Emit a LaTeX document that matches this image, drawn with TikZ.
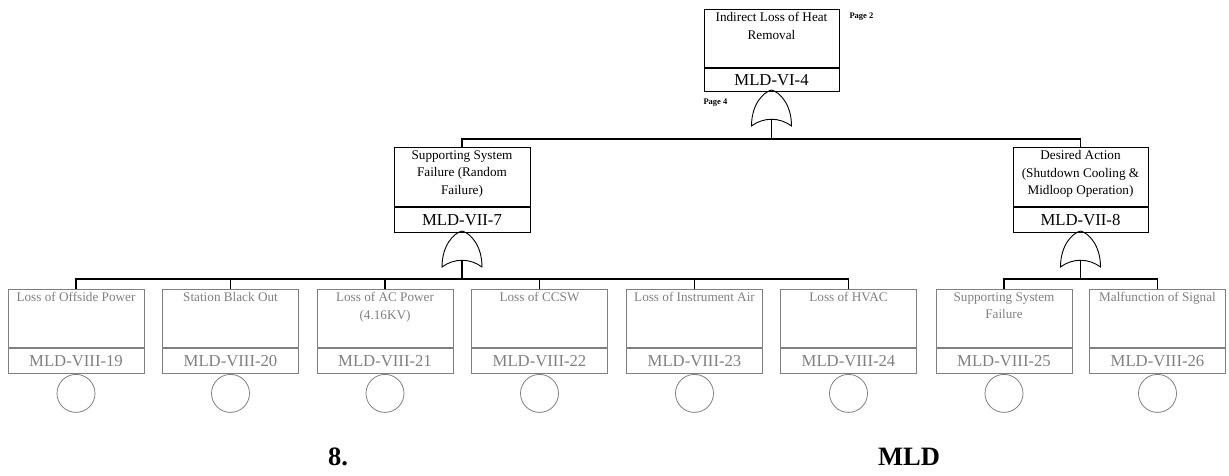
\documentclass[tikz,border=0pt]{standalone}
\usepackage{fontspec}
\setmainfont{Liberation Serif}
\newcommand\ftbox[9]{%
  \node[draw=#9, minimum width=#4pt, minimum height=#5pt, inner sep=0pt, anchor=north] (#1u) at (#2,#3) {};
  \node[draw=#9, minimum width=#4pt, minimum height=#6pt, inner sep=0pt, anchor=north, text=#9, codefont] (#1) at (#1u.south) {#8};
  \node[anchor=north, text=#9, align=center, inner sep=0pt, descfont] (#1t) at ([yshift=-3pt]#1u.north) {#7};
}
\newcommand\orgate[3]{%
  \draw[gatestyle] (#2-20,#3+36) .. controls (#2-20,#3+14) and (#2-8,#3+2) .. (#2,#3)
     .. controls (#2+8,#3+2) and (#2+20,#3+14) .. (#2+20,#3+36)
     .. controls (#2+8,#3+27) and (#2-8,#3+27) .. cycle;
  \coordinate (#1) at (#2,#3+29.3);
}
\tikzset{
  codefont/.style={font=\fontsize{16.7}{18}\selectfont},
  descfont/.style={font=\fontsize{13.2}{17.5}\selectfont},
  gatestyle/.style={draw=black, line width=0.9pt},
  conn/.style={draw=black, line width=1.1pt},
  evt/.style={circle, draw=gray, line width=0.8pt, minimum size=38pt, inner sep=0pt, anchor=north},
  pagelbl/.style={font=\fontsize{8.5}{9}\bfseries\selectfont, anchor=west, inner sep=0pt},
  caption/.style={font=\fontsize{26.5}{28}\bfseries\selectfont, inner sep=0pt}
}
\begin{document}
\begin{tikzpicture}[x=1pt, y=-1pt, line width=1pt]
\useasboundingbox (0,0) rectangle (1229,476);
% top event
\ftbox{top}{771.5}{9}{135}{58}{23}{Indirect Loss of Heat\\Removal}{MLD-VI-4}{black}
\node[pagelbl] (p2) at (849,17) {Page 2};
\node[pagelbl] (p4) at (703,103) {Page 4};
\orgate{g0}{771.5}{90}
% middle level
\ftbox{ml}{462}{147}{136}{59}{25}{Supporting System\\Failure (Random\\Failure)}{MLD-VII-7}{black}
\ftbox{mr}{1080.5}{147}{135}{59}{25}{Desired Action\\(Shutdown Cooling \&\\Midloop Operation)}{MLD-VII-8}{black}
\coordinate (bus0) at (771.5,139);
\draw[conn] (g0) -- (bus0);
\draw[conn] (mlu.north) |- (bus0) -| (mru.north);
\orgate{g1}{462}{231}
\orgate{g2}{1080.5}{231}
% bottom level
\ftbox{b1}{76}{289}{136}{58}{25}{Loss of Offside Power}{MLD-VIII-19}{gray}
\ftbox{b2}{230.5}{289}{136}{58}{25}{Station Black Out}{MLD-VIII-20}{gray}
\ftbox{b3}{385}{289}{136}{58}{25}{Loss of AC Power\\(4.16KV)}{MLD-VIII-21}{gray}
\ftbox{b4}{539.5}{289}{136}{58}{25}{Loss of CCSW}{MLD-VIII-22}{gray}
\ftbox{b5}{694.5}{289}{136}{58}{25}{Loss of Instrument Air}{MLD-VIII-23}{gray}
\ftbox{b6}{848.5}{289}{136}{58}{25}{Loss of HVAC}{MLD-VIII-24}{gray}
\ftbox{b7}{1004}{289}{136}{58}{25}{Supporting System\\Failure}{MLD-VIII-25}{gray}
\ftbox{b8}{1157.5}{289}{136}{58}{25}{Malfunction of Signal}{MLD-VIII-26}{gray}
\foreach \i in {1,...,8} {\node[evt] (c\i) at (b\i.south) {};}
\coordinate (bus1) at (462,279);
\coordinate (bus2) at (1080.5,279);
\draw[conn] (g1) -- (bus1);
\draw[conn] (b1u.north) |- (bus1) -| (b6u.north);
\foreach \i in {2,...,5} {\draw[conn] (b\i u.north) -- (b\i u.north |- bus1);}
\draw[conn] (g2) -- (bus2);
\draw[conn] (b7u.north) |- (bus2) -| (b8u.north);
% captions
\node[caption] (cap1) at (338,457) {8.};
\node[caption] (cap2) at (909,457) {MLD};
\end{tikzpicture}
\end{document}
